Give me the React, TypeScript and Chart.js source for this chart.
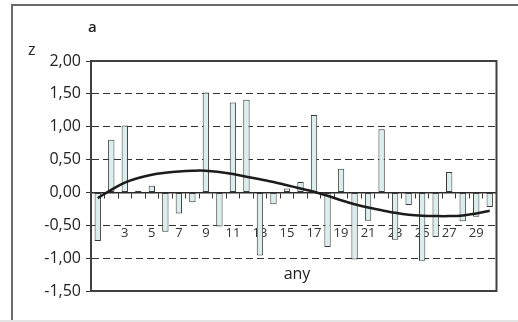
import React, { useEffect, useRef } from "react";
import { Chart, registerables } from "chart.js";

Chart.register(...registerables);

const categories = Array.from({ length: 30 }, (_, i) => String(i + 1));
const barValues = [
  -0.74, 0.8, 1.02, 0.025, 0.1, -0.6, -0.32, -0.15, 1.52, -0.52,
  1.37, 1.41, -0.96, -0.18, 0.06, 0.16, 1.18, -0.83, 0.36, -1.02,
  -0.43, 0.96, -0.72, -0.19, -1.04, -0.68, 0.31, -0.44, -0.37, -0.22,
];
const trendValues = [
  -0.086, 0.04, 0.15, 0.22, 0.27, 0.3, 0.32, 0.33, 0.33, 0.31,
  0.28, 0.24, 0.2, 0.16, 0.11, 0.06, 0.01, -0.05, -0.12, -0.18,
  -0.23, -0.27, -0.31, -0.34, -0.355, -0.36, -0.36, -0.35, -0.32, -0.28,
];
const yMin = -1.5;
const yMax = 2;
const yStep = 0.5;

const FONT = "'Open Sans', sans-serif";

export default function App() {
  const ref = useRef<HTMLCanvasElement | null>(null);

  useEffect(() => {
    if (!ref.current) return;
    const framePlugin = {
      id: "frame",
      afterDraw(chart: any) {
        const { ctx, chartArea } = chart;
        ctx.save();
        ctx.strokeStyle = "#404040";
        ctx.lineWidth = 2;
        ctx.strokeRect(
          chartArea.left,
          chartArea.top,
          chartArea.right - chartArea.left,
          chartArea.bottom - chartArea.top
        );
        ctx.restore();
      },
    };
    const chart = new Chart(ref.current, {
      type: "bar",
      data: {
        labels: categories,
        datasets: [
          {
            type: "line",
            data: trendValues,
            borderColor: "#1c1c1c",
            borderWidth: 2.5,
            pointRadius: 0,
            tension: 0.4,
            fill: false,
            order: 0,
          } as any,
          {
            type: "bar",
            data: barValues,
            backgroundColor: "#dcedee",
            borderColor: "#3a3a3a",
            borderWidth: 1,
            borderSkipped: false,
            barPercentage: 0.47,
            categoryPercentage: 1,
            order: 1,
          } as any,
        ],
      },
      options: {
        animation: false,
        responsive: false,
        maintainAspectRatio: false,
        layout: { padding: { left: 0, top: 61, right: 16, bottom: 31 } },
        plugins: {
          legend: { display: false },
          tooltip: { enabled: false },
          title: { display: false },
        },
        scales: {
          x: {
            type: "category",
            position: { y: 0 } as any,
            offset: true,
            z: 1,
            grid: {
              display: true,
              drawOnChartArea: false,
              drawTicks: true,
              tickLength: 5,
              color: "#333",
              offset: true,
            },
            border: { display: true, color: "#2a2a2a", width: 1.5 },
            ticks: {
              autoSkip: false,
              maxRotation: 0,
              padding: 28,
              color: "#333",
              font: { family: FONT, size: 13 },
              callback: (_v: any, i: number) => (i % 2 === 0 ? categories[i] : ""),
            } as any,
          },
          y: {
            min: yMin,
            max: yMax,
            afterFit: (scale: any) => {
              scale.width = 91;
            },
            grid: {
              color: "#333",
              lineWidth: 1,
              drawTicks: true,
              tickLength: 5,
            },
            border: { display: true, color: "#404040", width: 2, dash: [7, 4] },
            ticks: {
              stepSize: yStep,
              padding: 5,
              color: "#222",
              font: { family: FONT, size: 16 },
              callback: (v: any) => Number(v).toFixed(2).replace(".", ","),
            },
          },
        },
      },
      plugins: [framePlugin],
    });
    return () => chart.destroy();
  }, []);

  return (
    <div style={{ position: "absolute", left: 0, top: 0, width: 518, height: 322, overflow: "hidden", background: "#fff" }}>
      <div
        style={{
          position: "absolute",
          left: 11,
          top: 4,
          width: 530,
          height: 330,
          borderLeft: "2px solid #6a6a6a",
          borderTop: "2px solid #6a6a6a",
        }}
      />
      <div style={{ position: "absolute", left: 0, top: 320, width: 518, height: 2, background: "#e4e4e4" }} />
      <canvas ref={ref} width={518} height={322} style={{ position: "absolute", left: 0, top: 0 }} />
      <div style={{ position: "absolute", left: 88, top: 19, font: `600 15px/15px ${FONT}`, color: "#222" }}>a</div>
      <div style={{ position: "absolute", left: 28, top: 41, font: `16px/16px ${FONT}`, color: "#222" }}>z</div>
      <div style={{ position: "absolute", left: 297, top: 265, transform: "translateX(-50%)", font: `16px/16px ${FONT}`, color: "#222" }}>any</div>
    </div>
  );
}
